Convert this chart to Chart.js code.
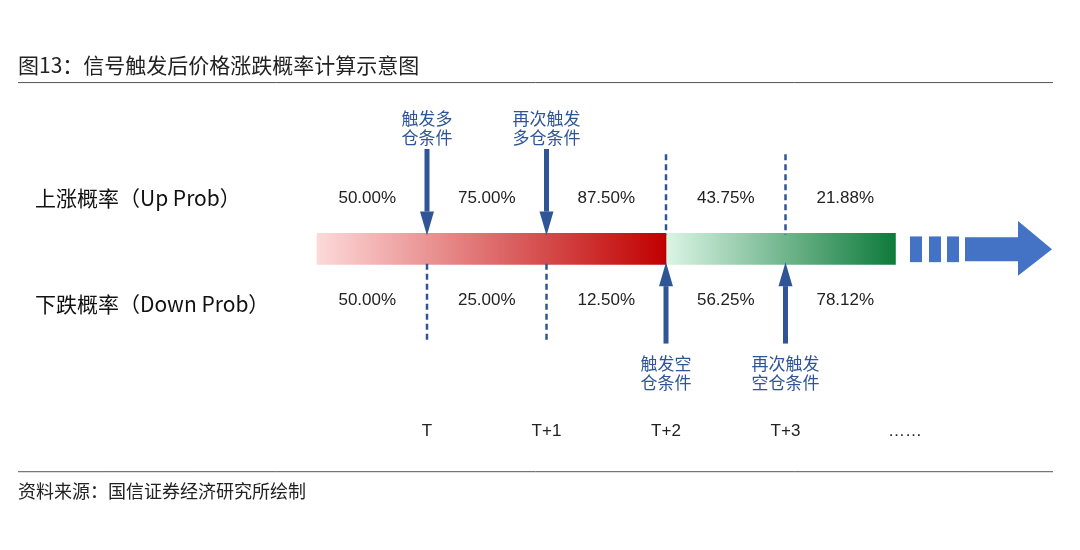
<!DOCTYPE html>
<html><head><meta charset="utf-8">
<script src="https://cdn.jsdelivr.net/npm/chart.js@4.4.0/dist/chart.umd.min.js"></script>
<style>html,body{margin:0;padding:0;background:#fff}#w{width:1080px;height:550px}</style>
</head><body><div id="w"><canvas id="c"></canvas></div>
<script>
const periods = ['T','T+1','T+2','T+3','……'];
const periodPos = [0,1,2,3,4];
const upProb = ['50.00%','75.00%','87.50%','43.75%','21.88%'];
const downProb = ['50.00%','25.00%','12.50%','56.25%','78.12%'];
const intervalMid = [-0.5,0.5,1.5,2.5,3.5];
const longSignals = [0,1];
const shortSignals = [2,3];
const longLabels = [['触发多','仓条件'],['再次触发','多仓条件']];
const shortLabels = [['触发空','仓条件'],['再次触发','空仓条件']];
const redSpan = [-0.92,2];
const greenSpan = [2,3.92];

const FONT = '"Noto Sans CJK SC","Liberation Sans",Arial,sans-serif';
const BLUE = '#2f5597';

function grad(chart, span, c0, c1){
  const x = chart.scales.x; if(!x || !chart.chartArea) return c1;
  const a = x.getPixelForValue(span[0]), b = x.getPixelForValue(span[1]);
  if(!isFinite(a) || !isFinite(b)) return c1;
  const g = chart.ctx.createLinearGradient(a,0,b,0);
  g.addColorStop(0,c0); g.addColorStop(1,c1); return g;
}

const deco = {
  id:'deco',
  afterDatasetsDraw(chart){
    const ctx = chart.ctx, X = chart.scales.x, Y = chart.scales.y;
    const px = v=>X.getPixelForValue(v), py = v=>Y.getPixelForValue(v);
    ctx.save();
    ctx.fillStyle='#222'; ctx.font='21px '+FONT; ctx.textBaseline='middle'; ctx.textAlign='left';
    ctx.fillText('图13：信号触发后价格涨跌概率计算示意图',18,py(30));
    ctx.strokeStyle='#555'; ctx.lineWidth=1;
    ctx.beginPath(); ctx.moveTo(18,py(50.5)); ctx.lineTo(1053,py(50.5)); ctx.stroke();
    ctx.beginPath(); ctx.moveTo(18,py(504.5)); ctx.lineTo(1053,py(504.5)); ctx.stroke();
    ctx.font='18px '+FONT; ctx.fillText('资料来源：国信证券经济研究所绘制',18,py(527));
    ctx.font='21px '+FONT; ctx.fillStyle='#111';
    ctx.fillText('上涨概率（Up Prob）',35,py(185));
    ctx.fillText('下跌概率（Down Prob）',35,py(309));
    ctx.font='17px "Liberation Sans",Arial,sans-serif'; ctx.textAlign='center'; ctx.fillStyle='#222';
    intervalMid.forEach((m,i)=>{ ctx.fillText(upProb[i],px(m),py(186)); ctx.fillText(downProb[i],px(m),py(305)); });
    periods.forEach((p,i)=>ctx.fillText(p,px(periodPos[i]),py(457)));
    ctx.strokeStyle=BLUE; ctx.fillStyle=BLUE;
    function dash(x,y0,y1){ctx.save();ctx.setLineDash([6,4]);ctx.lineWidth=2.5;ctx.beginPath();ctx.moveTo(x,y0);ctx.lineTo(x,y1);ctx.stroke();ctx.restore();}
    function arrow(x,yTail,yTip){
      const dir = yTip>yTail?1:-1, hl=24, hw=7;
      ctx.fillRect(x-2.5,Math.min(yTail,yTip-dir*hl),5,Math.abs(yTip-dir*hl-yTail));
      ctx.beginPath(); ctx.moveTo(x-hw,yTip-dir*hl); ctx.lineTo(x+hw,yTip-dir*hl); ctx.lineTo(x,yTip); ctx.closePath(); ctx.fill();
    }
    ctx.font='17px '+FONT;
    longSignals.forEach((s,i)=>{ const x=px(s);
      ctx.fillStyle=BLUE; arrow(x,py(128),py(229)); dash(x,py(262),py(355));
      longLabels[i].forEach((t,k)=>ctx.fillText(t,x,py(93+k*22)));
    });
    shortSignals.forEach((s,i)=>{ const x=px(s);
      ctx.fillStyle=BLUE; dash(x,py(134),py(228)); arrow(x,py(355),py(260));
      shortLabels[i].forEach((t,k)=>ctx.fillText(t,x,py(378+k*22)));
    });
    ctx.fillStyle='#4472c4';
    [910,929,947].forEach(x=>ctx.fillRect(x,py(230),12,py(260)-py(230)));
    ctx.beginPath(); ctx.moveTo(965,py(231)); ctx.lineTo(1018,py(231)); ctx.lineTo(1018,py(212));
    ctx.lineTo(1052,py(245)); ctx.lineTo(1018,py(276)); ctx.lineTo(1018,py(259)); ctx.lineTo(965,py(259)); ctx.closePath(); ctx.fill();
    ctx.restore();
  }
};

new Chart(document.getElementById('c'),{
  type:'bar',
  data:{datasets:[
    {data:[{x:redSpan,y:244.5}],backgroundColor:c=>grad(c.chart,redSpan,'#fdd9d9','#c00000'),barThickness:31,borderWidth:0},
    {data:[{x:greenSpan,y:244.5}],backgroundColor:c=>grad(c.chart,greenSpan,'#dcf5e6','#0e7a3a'),barThickness:31,borderWidth:0}
  ]},
  options:{
    indexAxis:'y',responsive:true,maintainAspectRatio:false,animation:false,
    layout:{padding:0},
    plugins:{legend:{display:false},tooltip:{enabled:false}},
    datasets:{bar:{grouped:false}},
    scales:{
      x:{type:'linear',display:false,min:(0-427)/119.5,max:(1080-427)/119.5},
      y:{type:'linear',display:false,min:0,max:550,reverse:true}
    }
  },
  plugins:[deco]
});
</script></body></html>
